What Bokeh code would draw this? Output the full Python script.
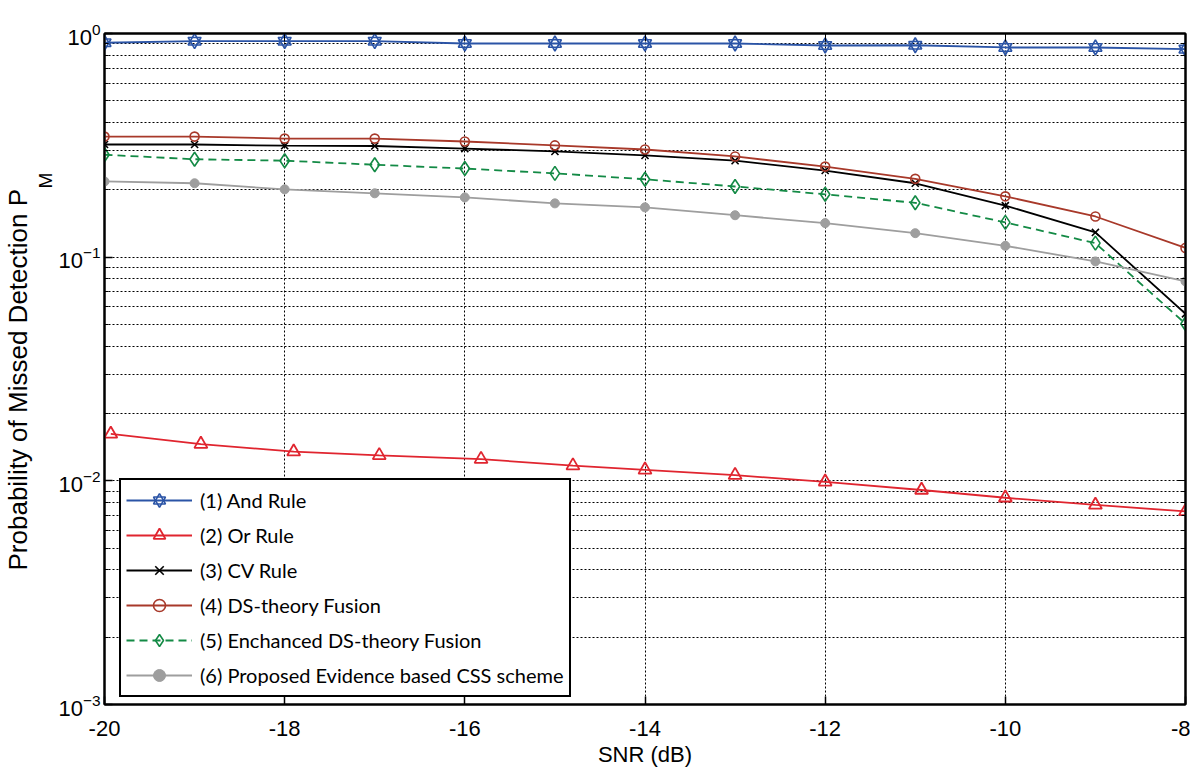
from math import pi
from bokeh.plotting import figure
from bokeh.models import (FixedTicker, Legend, LegendItem, LogAxis, LinearAxis,
                          Range1d, Title)
from bokeh.embed import file_html
from bokeh.resources import INLINE

# ---------------- data ----------------
snr = [-20, -19, -18, -17, -16, -15, -14, -13, -12, -11, -10, -9, -8]
and_rule = [0.909, 0.924, 0.924, 0.924, 0.902, 0.902, 0.902, 0.902, 0.884, 0.886, 0.866, 0.866, 0.851]
or_snr = [-19.93, -18.93, -17.9, -16.95, -15.82, -14.8, -14.0, -13.0, -12.0, -10.93, -10.0, -9.0, -8.0]
or_rule = [0.0162, 0.0146, 0.0135, 0.0130, 0.0125, 0.0117, 0.0112, 0.0106, 0.0099, 0.0091, 0.0084, 0.0078, 0.0073]
cv_rule = [0.319, 0.319, 0.315, 0.314, 0.306, 0.297, 0.285, 0.270, 0.244, 0.214, 0.170, 0.129, 0.0558]
ds_fusion = [0.346, 0.346, 0.339, 0.339, 0.329, 0.316, 0.303, 0.282, 0.254, 0.224, 0.187, 0.152, 0.110]
eds_fusion = [0.287, 0.274, 0.270, 0.259, 0.249, 0.237, 0.223, 0.207, 0.191, 0.175, 0.143, 0.1155, 0.0504]
proposed = [0.218, 0.214, 0.201, 0.193, 0.185, 0.174, 0.167, 0.154, 0.142, 0.128, 0.1124, 0.0957, 0.0779]

labels = ["(1) And Rule", "(2) Or Rule", "(3) CV Rule", "(4) DS-theory Fusion",
          "(5) Enchanced DS-theory Fusion", "(6) Proposed Evidence based CSS scheme"]

x_ticks = [-20, -18, -16, -14, -12, -10, -8]
x_tick_labels = ["-20", "-18", "-16", "-14", "-12", "-10", "-8"]
y_exponents = [-3, -2, -1, 0]
y_ticks = [10.0 ** e for e in y_exponents]
y_minor = [m * 10.0 ** e for e in [-3, -2, -1] for m in range(2, 10)]

C_AND = "#2b54a6"
C_OR = "#e0252f"
C_CV = "#000000"
C_DS = "#a8392a"
C_EDS = "#138a45"
C_PRO = "#9e9e9e"

FONT = "Liberation Sans"

p = figure(width=1190, height=774, x_range=Range1d(-20, -8), y_range=Range1d(1e-3, 1),
           y_axis_type="log", output_backend="svg", toolbar_location=None,
           min_border_left=100, min_border_right=5, min_border_top=33, min_border_bottom=70)
p.background_fill_color = "white"
p.border_fill_color = "white"
p.outline_line_color = "black"
p.outline_line_width = 2
p.outline_line_alpha = 1

yt = FixedTicker(ticks=y_ticks, minor_ticks=y_minor)
xt = FixedTicker(ticks=x_ticks)
p.yaxis.ticker = yt
p.xaxis.ticker = xt
p.xaxis.major_label_overrides = dict(zip(x_ticks, x_tick_labels))

for g in (p.xgrid, p.ygrid):
    g.grid_line_color = "black"
    g.grid_line_dash = "2 2"
    g.grid_line_width = 1
    g.grid_line_alpha = 1
p.ygrid.minor_grid_line_color = "black"
p.ygrid.minor_grid_line_dash = "2 2"
p.ygrid.minor_grid_line_width = 1

for ax in (p.xaxis[0], p.yaxis[0]):
    ax.axis_line_color = "black"
    ax.axis_line_width = 2
    ax.major_tick_in = 8
    ax.major_tick_out = 0
    ax.major_tick_line_width = 1.5
    ax.major_tick_line_color = "black"
    ax.major_label_text_font = FONT
    ax.major_label_text_font_size = "22px"
    ax.major_label_text_color = "black"
p.yaxis.minor_tick_in = 4
p.yaxis.minor_tick_out = 0
p.yaxis.minor_tick_line_color = "black"
p.yaxis.major_label_standoff = 4
p.xaxis.minor_tick_line_color = None
p.xaxis.major_label_standoff = 16
p.xaxis.axis_label = "SNR (dB)"
p.xaxis.axis_label_text_font = FONT
p.xaxis.axis_label_text_font_size = "22px"
p.xaxis.axis_label_text_font_style = "normal"
p.xaxis.axis_label_text_color = "black"
p.xaxis.axis_label_standoff = 3

# mirrored ticks on top and right
ra = LogAxis(ticker=yt, major_label_text_font_size="0px", major_label_standoff=0,
             major_label_overrides={t: "" for t in y_ticks},
             axis_line_color="black", axis_line_width=2,
             major_tick_in=8, major_tick_out=0, minor_tick_in=4, minor_tick_out=0)
p.add_layout(ra, "right")
ta = LinearAxis(ticker=xt, major_label_text_font_size="0px", major_label_standoff=0,
                major_label_overrides={t: "" for t in x_ticks},
                axis_line_color="black", axis_line_width=2,
                major_tick_in=8, major_tick_out=0, minor_tick_line_color=None)
p.add_layout(ta, "above")

# y axis label "Probability of Missed Detection P_M" (subscript as a second title)
t_sub = Title(text="M", align="left", offset=516, standoff=0,
              text_font=FONT, text_font_size="19px", text_font_style="normal",
              text_color="black")
t_main = Title(text="Probability of Missed Detection P", align="left", offset=134,
               standoff=0, text_font=FONT, text_font_size="26px",
               text_font_style="normal", text_color="black")
p.add_layout(t_sub, "left")
p.add_layout(t_main, "left")

# ---------------- series ----------------
LW = 1.8
r1l = p.line(snr, and_rule, line_color=C_AND, line_width=LW)
r1a = p.scatter(snr, and_rule, marker="triangle", size=13, line_color=C_AND,
                fill_color=None, line_width=1.6)
r1b = p.scatter(snr, and_rule, marker="inverted_triangle", size=13, line_color=C_AND,
                fill_color=None, line_width=1.6)

r2l = p.line(or_snr, or_rule, line_color=C_OR, line_width=LW)
r2m = p.scatter(or_snr, or_rule, marker="triangle", size=13, line_color=C_OR,
                fill_color=None, line_width=1.8)

r3l = p.line(snr, cv_rule, line_color=C_CV, line_width=LW)
r3m = p.scatter(snr, cv_rule, marker="x", size=10, line_color=C_CV, line_width=1.6)

r4l = p.line(snr, ds_fusion, line_color=C_DS, line_width=LW)
r4m = p.scatter(snr, ds_fusion, marker="circle", size=9, line_color=C_DS,
                fill_color=None, line_width=1.6)

r5l = p.line(snr, eds_fusion, line_color=C_EDS, line_width=LW, line_dash="8 5")
r5m = p.scatter(snr, eds_fusion, marker="diamond", size=14,
                line_color=C_EDS, fill_color=None, line_width=1.6)

r6l = p.line(snr, proposed, line_color=C_PRO, line_width=LW)
r6m = p.scatter(snr, proposed, marker="circle", size=9, line_color=C_PRO,
                fill_color=C_PRO, line_width=1)

items = [
    LegendItem(label=labels[0], renderers=[r1l, r1a, r1b]),
    LegendItem(label=labels[1], renderers=[r2l, r2m]),
    LegendItem(label=labels[2], renderers=[r3l, r3m]),
    LegendItem(label=labels[3], renderers=[r4l, r4m]),
    LegendItem(label=labels[4], renderers=[r5l, r5m]),
    LegendItem(label=labels[5], renderers=[r6l, r6m]),
]
legend = Legend(items=items, location=(15, 7), orientation="vertical",
                border_line_color="black", border_line_width=2, border_line_alpha=1,
                background_fill_color="white", background_fill_alpha=1,
                glyph_width=66, glyph_height=30, label_height=30, spacing=5,
                padding=5, margin=0, label_standoff=8,
                label_text_font="Lato", label_text_font_size="20px",
                label_text_color="black")
p.add_layout(legend)

open("out.html", "w").write(file_html(p, INLINE))
